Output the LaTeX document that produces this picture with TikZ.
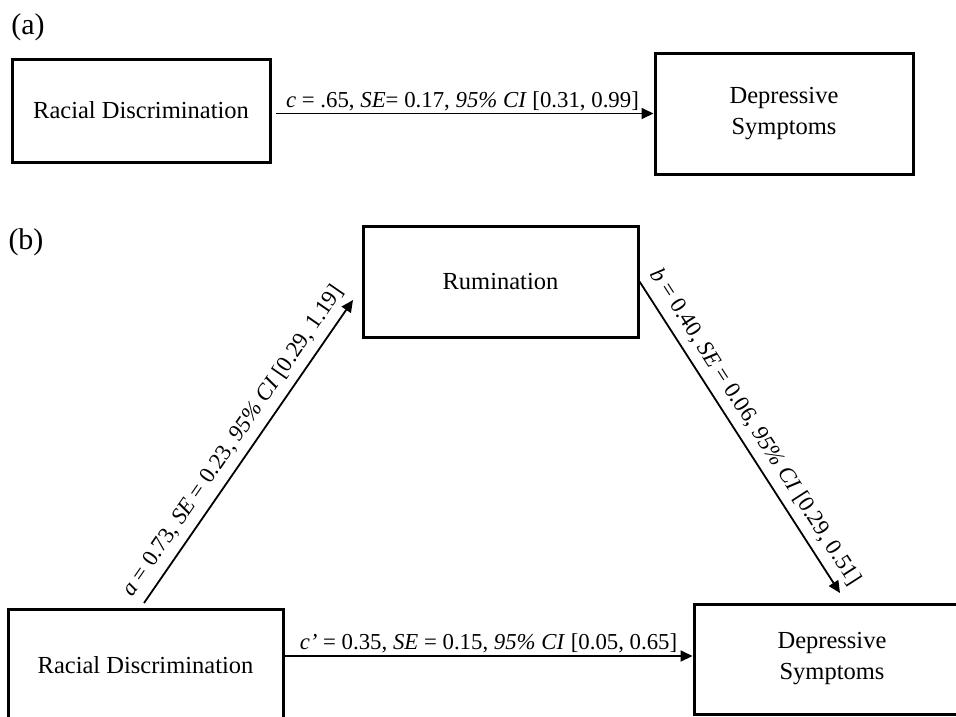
\documentclass[tikz,border=0pt]{standalone}
\usepackage{fontspec}
\setmainfont{Liberation Serif}
\usetikzlibrary{arrows.meta}

\tikzset{
    box/.style={draw, line width=3pt, minimum width=#1, inner sep=0pt, align=center,
        font=\fontsize{24.5}{31}\selectfont},
    conn/.style={line width=1.8pt, -{Triangle[length=12pt,width=11pt]}},
    lbl/.style={font=\fontsize{22.8}{27}\selectfont, inner sep=2pt},
    slbl/.style={lbl, inner sep=8pt, sloped},
    panel/.style={font=\fontsize{30}{34}\selectfont}
}

\begin{document}
\begin{tikzpicture}[x=1pt, y=-1pt]
        \clip (0,0) rectangle (956,716);
        \useasboundingbox (0,0) rectangle (956,716);

        % Nodes for panel (a)
        \node[panel] (pa) at (28,27) {(a)};
        \node[box=258pt, minimum height=103pt] (RDa) at (141,110.5) {Racial Discrimination};
        \node[box=258pt, minimum height=121pt] (DSa) at (784,113.5) {Depressive\\Symptoms};

        \draw[conn, shorten <=4pt] (RDa.east |- DSa.west) -- node[lbl, midway, above]
            {\textit{c} = .65, \textit{SE}= 0.17, \textit{95\% CI} [0.31, 0.99]} (DSa.west);

        % Nodes for panel (b)
        \node[panel] (pb) at (26,242) {(b)};
        \node[box=275pt, minimum height=111pt] (Rum) at (500.5,281.5) {Rumination};
        \node[box=275pt, minimum height=112pt] (RDb) at (145.5,665) {Racial Discrimination};
        \node[box=276pt, minimum height=110pt] (DSb) at (832,659) {Depressive\\Symptoms};

        \coordinate (aS) at (144,603);
        \coordinate (aE) at (353,300);
        \coordinate (bE) at (840,593);

        % Mediation edges
        \draw[conn] (aS) -- node[slbl, midway, above]
            {\textit{a} = 0.73, \textit{SE} = 0.23, \textit{95\% CI} [0.29, 1.19]} (aE);
        \draw[conn] (Rum.east) -- node[slbl, midway, above]
            {\textit{b} = 0.40, \textit{SE} = 0.06, \textit{95\% CI} [0.29, 0.51]} (bE);
        \draw[conn] ([yshift=3pt]RDb.east |- DSb.west) -- node[lbl, midway, above]
            {\textit{c’} = 0.35, \textit{SE} = 0.15, \textit{95\% CI} [0.05, 0.65]} ([yshift=3pt]DSb.west);

\end{tikzpicture}
\end{document}
